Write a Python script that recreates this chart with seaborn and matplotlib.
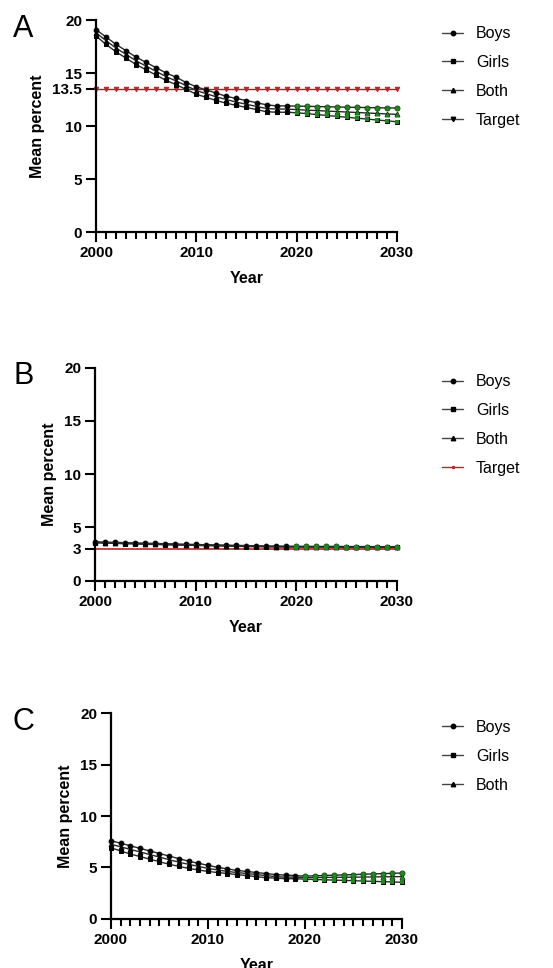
import matplotlib
matplotlib.use("Agg")
import matplotlib.pyplot as plt
from matplotlib.lines import Line2D
from matplotlib.ticker import MultipleLocator
import seaborn as sns

# years: observed and projected
years_obs = list(range(2000, 2020))
years_proj = list(range(2020, 2031))
years_all = years_obs + years_proj

# panel A
a_boys = [19.1, 18.4, 17.7, 17.1, 16.5, 16.0, 15.5, 15.0, 14.6, 14.1, 13.7, 13.4, 13.1, 12.8, 12.6, 12.4, 12.2, 12.0, 11.9, 11.9,
          11.88, 11.86, 11.84, 11.82, 11.8, 11.78, 11.76, 11.74, 11.72, 11.71, 11.7]
a_both = [18.8, 18.05, 17.35, 16.75, 16.15, 15.65, 15.15, 14.65, 14.25, 13.8, 13.35, 13.05, 12.75, 12.5, 12.25, 12.05, 11.85, 11.65, 11.6, 11.6,
          11.55, 11.5, 11.46, 11.41, 11.37, 11.32, 11.28, 11.23, 11.19, 11.14, 11.1]
a_girls = [18.5, 17.7, 17.0, 16.4, 15.8, 15.3, 14.8, 14.3, 13.9, 13.45, 13.0, 12.7, 12.4, 12.15, 11.95, 11.75, 11.55, 11.35, 11.3, 11.3,
           11.25, 11.17, 11.08, 11.0, 10.91, 10.83, 10.74, 10.66, 10.57, 10.49, 10.4]
a_target = 13.5

# panel B
b_boys = [3.65, 3.62, 3.6, 3.57, 3.55, 3.52, 3.5, 3.47, 3.45, 3.42, 3.4, 3.38, 3.36, 3.34, 3.32, 3.3, 3.28, 3.26, 3.25, 3.24,
          3.23, 3.23, 3.22, 3.22, 3.22, 3.21, 3.21, 3.21, 3.2, 3.2, 3.2]
b_both = [3.6, 3.57, 3.55, 3.52, 3.5, 3.47, 3.45, 3.42, 3.4, 3.38, 3.36, 3.34, 3.32, 3.3, 3.28, 3.26, 3.24, 3.22, 3.21, 3.2,
          3.2, 3.19, 3.19, 3.19, 3.18, 3.18, 3.18, 3.17, 3.17, 3.17, 3.16]
b_girls = [3.56, 3.53, 3.5, 3.47, 3.45, 3.42, 3.4, 3.37, 3.35, 3.33, 3.31, 3.29, 3.27, 3.25, 3.23, 3.21, 3.19, 3.18, 3.17, 3.16,
           3.16, 3.15, 3.15, 3.15, 3.14, 3.14, 3.14, 3.13, 3.13, 3.13, 3.12]
b_target = 3.0

# panel C
c_boys = [7.6, 7.35, 7.1, 6.85, 6.6, 6.35, 6.1, 5.85, 5.6, 5.4, 5.2, 5.0, 4.85, 4.7, 4.6, 4.5, 4.4, 4.3, 4.25, 4.2,
          4.15, 4.18, 4.21, 4.24, 4.27, 4.3, 4.33, 4.36, 4.39, 4.42, 4.45]
c_both = [7.25, 7.0, 6.75, 6.5, 6.25, 6.0, 5.75, 5.5, 5.3, 5.1, 4.9, 4.75, 4.6, 4.5, 4.4, 4.3, 4.2, 4.1, 4.05, 4.05,
          4.0, 4.01, 4.02, 4.03, 4.04, 4.05, 4.06, 4.07, 4.08, 4.09, 4.1]
c_girls = [6.9, 6.6, 6.3, 6.05, 5.8, 5.55, 5.3, 5.1, 4.9, 4.75, 4.6, 4.5, 4.4, 4.3, 4.2, 4.1, 4.0, 3.95, 3.9, 3.9,
           3.85, 3.82, 3.79, 3.76, 3.73, 3.7, 3.67, 3.64, 3.61, 3.58, 3.55]

LINE = "#2a2a2a"
GREEN = "#1b8a1b"
RED = "#c42027"

sns.set_style("ticks")
plt.rcParams["font.family"] = ["Liberation Sans", "DejaVu Sans"]
for key in ["text.color", "axes.labelcolor", "xtick.color", "ytick.color", "axes.edgecolor"]:
    plt.rcParams[key] = "black"


def draw_panel(ax, boys, girls, both, target, target_marker, extra_tick, letter, leg_top):
    n_obs = len(years_obs)
    series = [(boys, "o", 3.4), (girls, "s", 3.2), (both, "^", 3.4)]
    for vals, mk, ms in series:
        sns.lineplot(x=years_all, y=vals, ax=ax, color=LINE, lw=1.0, marker=mk,
                     markersize=ms, markerfacecolor="black", markeredgecolor="black",
                     clip_on=False, zorder=3)
        sns.scatterplot(x=years_proj, y=vals[n_obs:], ax=ax, color=GREEN, marker=mk,
                        s=ms ** 2 * 1.1, linewidth=0, clip_on=False, zorder=4)

    handles = [Line2D([], [], color="#444444", lw=1.0, marker=m, markersize=3.2, mfc="black", mec="black")
               for m in ["o", "s", "^"]]
    labels = ["Boys", "Girls", "Both"]
    if target is not None:
        tvals = [target] * len(years_all)
        if target_marker:
            sns.lineplot(x=years_all, y=tvals, ax=ax, color="#8a2a2a", lw=1.0, marker="v",
                         markersize=3.2, markerfacecolor=RED, markeredgecolor=RED,
                         clip_on=False, zorder=2)
            handles.append(Line2D([], [], color="#444444", lw=1.0, marker="v", markersize=3.2,
                                  mfc="black", mec="black"))
        else:
            sns.lineplot(x=years_all, y=tvals, ax=ax, color=RED, lw=1.2, clip_on=False, zorder=2)
            handles.append(Line2D([], [], color=RED, lw=1.0, marker="o", markersize=1.5,
                                  mfc=RED, mec=RED))
        labels.append("Target")

    ax.set_xlim(2000, 2030)
    ax.set_ylim(0, 20)
    ax.set_xticks([2000, 2010, 2020, 2030])
    ax.xaxis.set_minor_locator(MultipleLocator(1))
    yt = [0, 5, 10, 15, 20]
    if extra_tick is not None:
        yt = sorted(yt + [extra_tick])
    ax.set_yticks(yt)
    ax.set_yticklabels([("%g" % v) for v in yt])
    sns.despine(ax=ax)
    for s in ["left", "bottom"]:
        ax.spines[s].set_linewidth(1.6)
    ax.tick_params(axis="both", which="major", length=7, width=1.5, labelsize=11, pad=3)
    ax.tick_params(axis="x", which="minor", length=5, width=1.5)
    for lab in ax.get_xticklabels() + ax.get_yticklabels():
        lab.set_fontweight("bold")
    ax.set_xlabel("Year", fontsize=11.5, fontweight="bold", labelpad=8)
    ax.set_ylabel("Mean percent", fontsize=11.5, fontweight="bold", labelpad=5)

    fig = ax.figure
    ax.legend(handles, labels, loc="upper left", bbox_to_anchor=(0.80, leg_top),
              bbox_transform=fig.transFigure, frameon=False, fontsize=11.5,
              handlelength=1.3, handletextpad=0.8, labelspacing=0.87,
              borderpad=0, borderaxespad=0)
    pos = ax.get_position()
    fig.text(0.042, pos.y1 - 0.009, letter, fontsize=22, ha="center", va="center")


fig = plt.figure(figsize=(5.53, 9.68), dpi=100)
ax_a = fig.add_axes([0.1736, 0.7603, 0.5443, 0.219])
ax_b = fig.add_axes([0.1718, 0.4001, 0.5456, 0.220])
ax_c = fig.add_axes([0.2007, 0.0509, 0.5262, 0.2122])

draw_panel(ax_a, a_boys, a_girls, a_both, a_target, True, 13.5, "A", 0.973)
draw_panel(ax_b, b_boys, b_girls, b_both, b_target, False, 3, "B", 0.6135)
draw_panel(ax_c, c_boys, c_girls, c_both, None, False, None, "C", 0.2562)

fig.savefig("out.png", dpi=100)
